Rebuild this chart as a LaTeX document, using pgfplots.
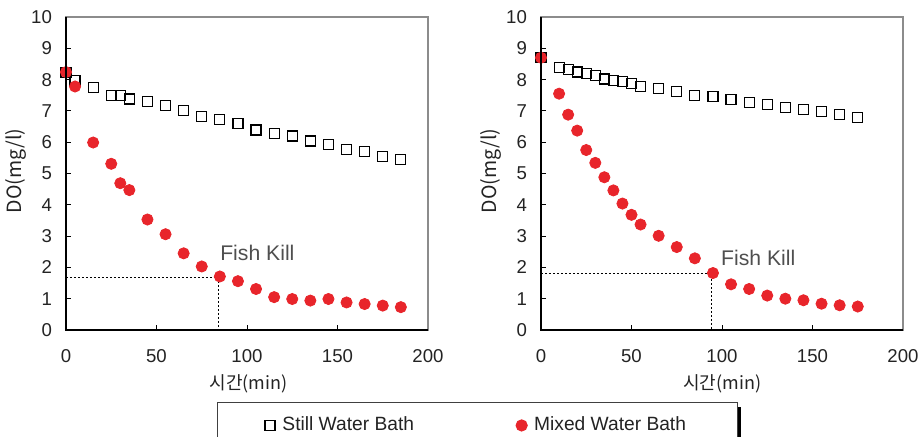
\documentclass[border=0pt]{standalone}
\usepackage{pgfplots}
\pgfplotsset{compat=1.18}
\usepackage{fontspec}
\setmainfont{Liberation Sans}
\newfontfamily\kr{Noto Sans CJK KR}
\usetikzlibrary{shadows}

\definecolor{dotred}{RGB}{232,37,43}
\definecolor{framegray}{RGB}{140,140,140}
\definecolor{txt}{RGB}{35,35,35}

\tikzset{killtext/.style={anchor=west, inner sep=0pt, text=txt!80, font=\fontsize{10.6}{13}\selectfont}}

\pgfplotsset{
  dopanel/.style={
    anchor=south west,
    scale only axis,
    width=181pt, height=156.5pt,
    xmin=0, xmax=200, ymin=0, ymax=10,
    xtick={0,50,100,150,200},
    ytick={0,1,...,10},
    tick align=inside,
    major tick length=2.5pt,
    tick style={black, line width=0.5pt},
    xtick pos=bottom, ytick pos=left,
    axis line style={framegray, line width=0.7pt},
    clip=false,
    /pgf/number format/assume math mode=true,
    tick label style={font=\fontsize{9.3}{11}\selectfont, text=txt},
    xticklabel style={yshift=-6pt},
    yticklabel style={xshift=-3.5pt},
    xlabel={{\kr 시간}(min)},
    ylabel={\kr DO(mg/l)},
    label style={text=txt},
    xlabel style={font=\kr\fontsize{9}{11}\selectfont, at={(axis description cs:0.504,-0.1725)}, anchor=center},
    ylabel style={font=\kr\fontsize{9.8}{11}\selectfont, at={(axis description cs:-0.138,0.508)}, anchor=center},
    after end axis/.code={
      \draw[black, line width=0.7pt] (rel axis cs:0,1) -- (rel axis cs:0,0) -- (rel axis cs:1,0);
    },
  },
  still/.style={only marks, mark=square, mark size=2.5pt, mark options={black, line width=0.6pt, fill=white}},
  mixed/.style={only marks, mark=*, mark size=2.8pt, mark options={draw=dotred, fill=dotred}},
  kill/.style={black, line width=0.5pt, dash pattern=on 1.1pt off 0.9pt, mark=none},
}

\begin{document}
\begin{tikzpicture}[x=1pt,y=1pt]

% left panel
\begin{axis}[dopanel, at={(33pt,53pt)},
  legend columns=2,
  legend style={at={(axis description cs:0.417,-0.2316)}, anchor=north west,
    draw=black!75, line width=0.5pt, fill=white,
    font=\fontsize{9.6}{11}\selectfont, text=txt,
    inner xsep=23.5pt, inner ysep=5pt,
    drop shadow={shadow xshift=2.2pt, shadow yshift=-2pt, fill=black, opacity=1},
    /tikz/every even column/.append style={column sep=49pt}},
  legend image code/.code={\draw[#1] plot coordinates {(0pt,0pt)}; \path (-2.5pt,0pt) (4pt,0pt);},
]
\addplot[still] coordinates {
  (0,8.23) (5,7.98) (15,7.75) (25,7.48) (30,7.5) (35,7.38) (45,7.29)
  (55,7.18) (65,7.02) (75,6.82) (85,6.72) (95,6.6) (105,6.39) (115,6.28)
  (125,6.2) (135,6.04) (145,5.93) (155,5.77) (165,5.71) (175,5.55) (185,5.45)
};
\addlegendentry{Still Water Bath}
\addplot[mixed] coordinates {
  (0,8.24) (5,7.78) (15,5.99) (25,5.31) (30,4.69) (35,4.47) (45,3.53)
  (55,3.06) (65,2.45) (75,2.03) (85,1.71) (95,1.56) (105,1.31) (115,1.05)
  (125,0.99) (135,0.94) (145,0.99) (155,0.88) (165,0.83) (175,0.78) (185,0.73)
};
\addlegendentry{Mixed Water Bath}
\addplot[kill, forget plot] coordinates {(0,1.67) (84.5,1.67) (84.5,0)};
\node[killtext] at (axis cs:85,2.45) {Fish Kill};
\end{axis}

% right panel
\begin{axis}[dopanel, at={(270.5pt,53pt)},
  xlabel style={at={(axis description cs:0.501,-0.1725)}},
]
\addplot[still] coordinates {
  (0,8.7) (10,8.38) (15,8.32) (20,8.24) (25,8.19) (30,8.12) (35,8.02)
  (40,7.98) (45,7.93) (50,7.87) (55,7.77) (65,7.71) (75,7.61) (85,7.5)
  (95,7.45) (105,7.36) (115,7.26) (125,7.2) (135,7.1) (145,7.04) (155,6.99)
  (165,6.89) (175,6.79)
};
\addplot[mixed] coordinates {
  (0,8.7) (10,7.55) (15,6.88) (20,6.37) (25,5.75) (30,5.34) (35,4.88)
  (40,4.46) (45,4.04) (50,3.68) (55,3.37) (65,3.01) (75,2.65) (85,2.29)
  (95,1.82) (105,1.46) (115,1.31) (125,1.1) (135,1.0) (145,0.95) (155,0.84)
  (165,0.79) (175,0.75)
};
\addplot[kill] coordinates {(0,1.82) (94,1.82) (94,0)};
\node[killtext] at (axis cs:99.3,2.29) {Fish Kill};
\end{axis}

\pgfresetboundingbox
\path[use as bounding box] (0,0) rectangle (459,218);
\end{tikzpicture}
\end{document}
